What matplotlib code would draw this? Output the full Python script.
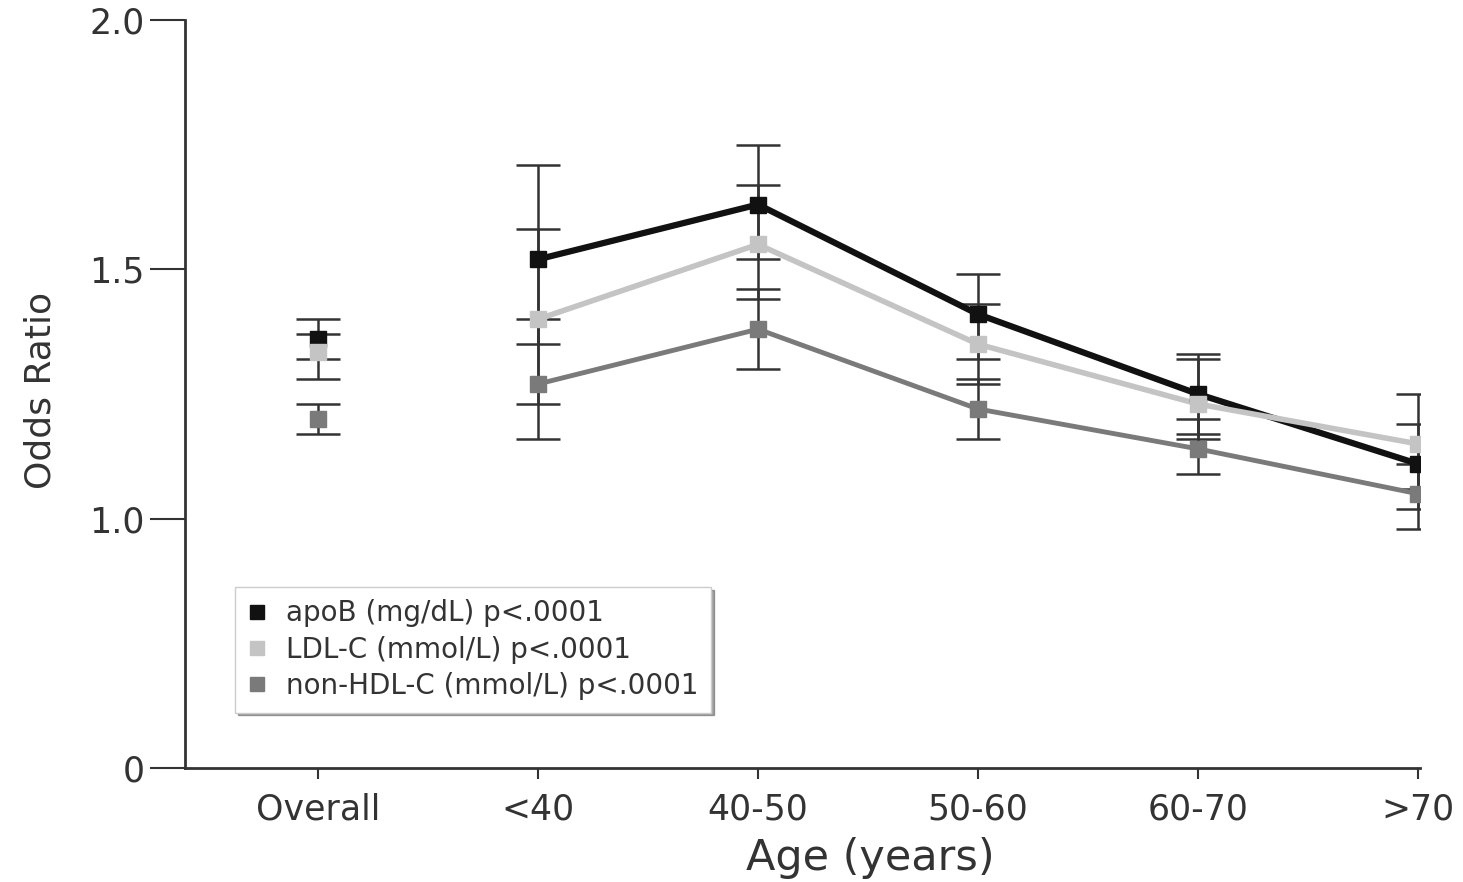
import matplotlib.pyplot as plt

plt.rcParams['font.family'] = ['DejaVu Sans']

groups = ['Overall', '<40', '40-50', '50-60', '60-70', '>70']

# odds ratios and 95% CI per age group (first entry = overall)
apob = [1.36, 1.52, 1.63, 1.41, 1.25, 1.11]
apob_lo = [1.32, 1.35, 1.52, 1.32, 1.17, 1.02]
apob_hi = [1.40, 1.71, 1.75, 1.49, 1.33, 1.19]

ldl = [1.335, 1.40, 1.55, 1.35, 1.23, 1.15]
ldl_lo = [1.28, 1.23, 1.44, 1.27, 1.16, 1.06]
ldl_hi = [1.37, 1.58, 1.67, 1.43, 1.32, 1.25]

nonhdl = [1.20, 1.27, 1.38, 1.22, 1.14, 1.05]
nonhdl_lo = [1.17, 1.16, 1.30, 1.16, 1.09, 0.98]
nonhdl_hi = [1.23, 1.40, 1.46, 1.28, 1.20, 1.11]

labels = ['apoB (mg/dL) p<.0001', 'LDL-C (mmol/L) p<.0001', 'non-HDL-C (mmol/L) p<.0001']
colors = ['#111111', '#c4c4c4', '#7a7a7a']

fig = plt.figure(figsize=(14.63, 8.82), dpi=100)
ax = fig.add_axes([185/1463, 1-768/882, (1420-185)/1463, (768-20)/882])

x = list(range(len(groups)))
series = [(apob, apob_lo, apob_hi), (ldl, ldl_lo, ldl_hi), (nonhdl, nonhdl_lo, nonhdl_hi)]
lws = [4.5, 4, 3.5]
handles = []
for (vals, lo, hi), c, lw, lab in zip(series, colors, lws, labels):
    err = [[v - l for v, l in zip(vals, lo)], [h - v for v, h in zip(vals, hi)]]
    ax.errorbar(x, vals, yerr=err, fmt='none', ecolor='#333333', elinewidth=1.8,
                capsize=16, capthick=1.8, zorder=2)
    # age groups joined by a line, overall left alone
    ax.plot(x[1:], vals[1:], color=c, lw=lw, zorder=3)
    h, = ax.plot(x, vals, ls='none', marker='s', ms=11, color=c, mec=c, zorder=4, label=lab)
    handles.append(h)

ax.set_xlim(-0.605, 5.01)
ax.set_ylim(0.5, 2.0)
ax.set_yticks([0.5, 1.0, 1.5, 2.0])
ax.set_yticklabels(['0', '1.0', '1.5', '2.0'])
ax.set_xticks(x)
ax.set_xticklabels(groups)

for s in ['top', 'right']:
    ax.spines[s].set_visible(False)
for s in ['left', 'bottom']:
    ax.spines[s].set_linewidth(2)
    ax.spines[s].set_color('#333333')
ax.tick_params(axis='y', length=25, width=1.5, colors='#333333', labelsize=25, pad=4)
ax.tick_params(axis='x', length=8, width=1.5, colors='#333333', labelsize=25, pad=10)

ax.set_ylabel('Odds Ratio', fontsize=26, color='#333333')
ax.yaxis.set_label_coords(-0.103, 0.505)
ax.set_xlabel('Age (years)', fontsize=31, color='#333333', va='center')
ax.xaxis.set_label_coords(0.555, -0.12)

leg = ax.legend(handles=handles, loc='upper left', bbox_to_anchor=(0.0405, 0.242),
                borderaxespad=0, fontsize=20, frameon=True, shadow=True, fancybox=False,
                handlelength=0.7, handletextpad=0.7, borderpad=0.45, labelspacing=0.3,
                markerscale=0.9, edgecolor='#cccccc')
for t in leg.get_texts():
    t.set_color('#333333')

fig.savefig('out.png', dpi=100, facecolor='white')
